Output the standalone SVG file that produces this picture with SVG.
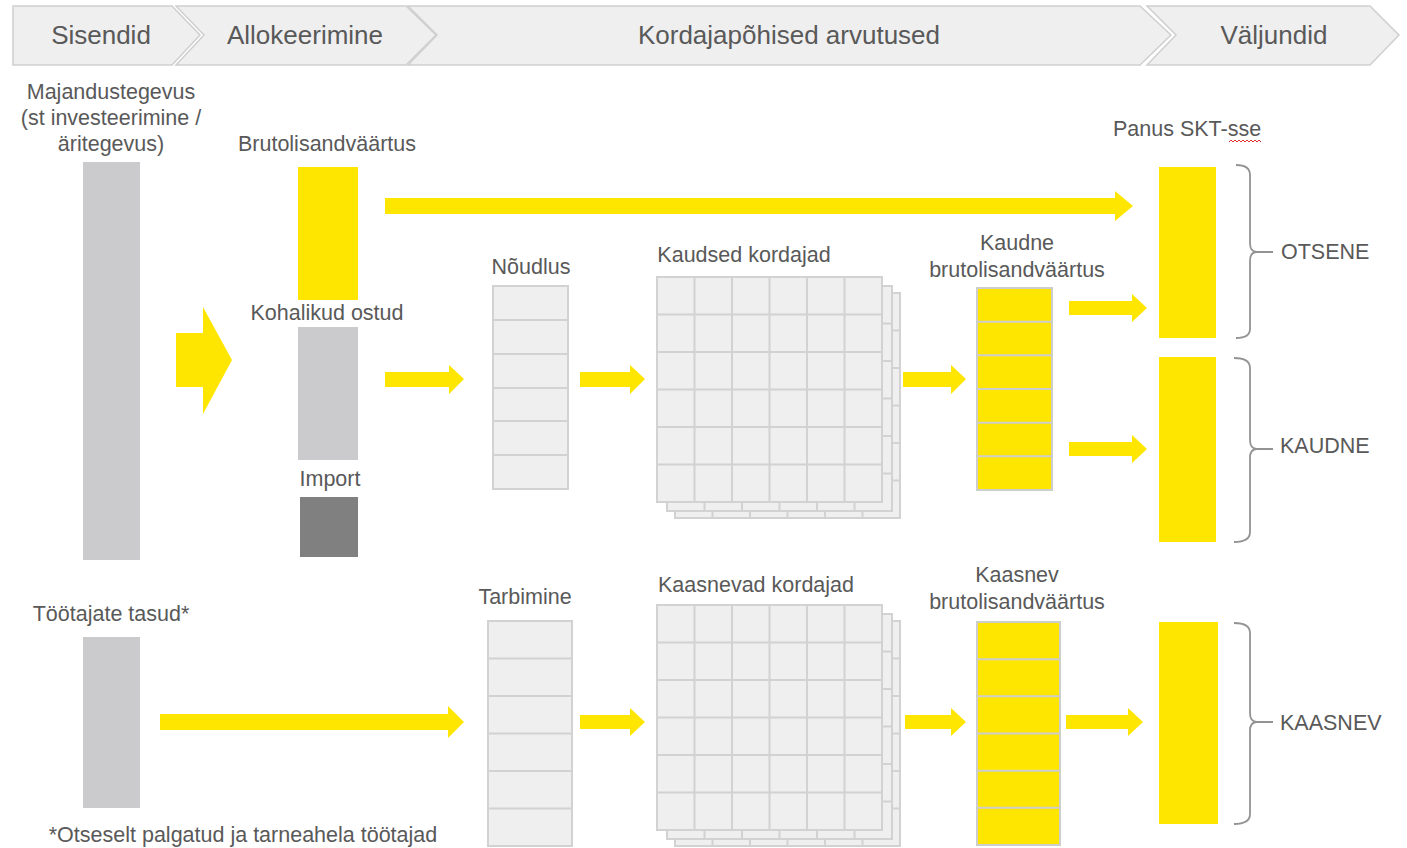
<svg xmlns="http://www.w3.org/2000/svg" xmlns:xlink="http://www.w3.org/1999/xlink" width="1407" height="848" viewBox="0 0 1407 848">
<style>
.chev{fill:#efefef;stroke:#cfcfcf;stroke-width:1.5}
.ht{font-family:"Liberation Sans",Arial,sans-serif;font-size:26px;fill:#595959;text-anchor:middle}
.lb{font-family:"Liberation Sans",Arial,sans-serif;font-size:21.5px;fill:#595959;text-anchor:middle}
.ls{font-family:"Liberation Sans",Arial,sans-serif;font-size:21.5px;fill:#595959}
.arrow{fill:#ffe600}
.y{fill:#ffe600}
.g{fill:#cbcbcd}
.dg{fill:#808080}
.cell{fill:#efefef;stroke:#d2d2d2;stroke-width:2}
.ycell{fill:#ffe600;stroke:#cdcdcd;stroke-width:2}
.gl{stroke:#d2d2d2;stroke-width:2}
.br{fill:none;stroke:#939393;stroke-width:1.8}
</style>
<defs>
<g id="grid">
<rect x="0" y="0" width="225" height="225" class="cell"/>
<path class="gl" d="M37.5,0V225M75,0V225M112.5,0V225M150,0V225M187.5,0V225M0,37.5H225M0,75H225M0,112.5H225M0,150H225M0,187.5H225"/>
</g>
</defs>
<rect width="1407" height="848" fill="#ffffff"/>

<g id="header">
<path class="chev" d="M13,6 H172 L200,35 L172,65 H13 Z"/>
<path class="chev" d="M176,6 H406 L436,35 L406,65 H176 L204,35 Z"/>
<path class="chev" d="M408,6 H1140 L1171,35 L1140,65 H408 L437,35 Z"/>
<path class="chev" d="M1147,6 H1370 L1399,35 L1370,65 H1147 L1176,35 Z"/>
<text class="ht" x="101" y="44">Sisendid</text>
<text class="ht" x="305" y="44">Allokeerimine</text>
<text class="ht" x="789" y="44">Kordajapõhised arvutused</text>
<text class="ht" x="1274" y="44">Väljundid</text>
</g>

<g id="connectors">
<path class="arrow" d="M176,333 H203 V307 L232,360 L203,414 V387 H176 Z"/>
<path class="arrow" d="M385,198 H1115 V191 L1133,206 L1115,221 V214 H385 Z"/>
<path class="arrow" d="M385,372 H449 V365 L464,379 L449,394 V387 H385 Z"/>
<path class="arrow" d="M580,372 H630 V365 L645,379 L630,394 V387 H580 Z"/>
<path class="arrow" d="M903,372 H951 V365 L966,379 L951,394 V387 H903 Z"/>
<path class="arrow" d="M1069,301 H1132 V294 L1147,308 L1132,322 V315 H1069 Z"/>
<path class="arrow" d="M1069,442 H1132 V435 L1147,449 L1132,463 V456 H1069 Z"/>
<path class="arrow" d="M160,714 H448 V706 L464,722 L448,738 V730 H160 Z"/>
<path class="arrow" d="M580,715 H630 V708 L645,722 L630,736 V729 H580 Z"/>
<path class="arrow" d="M905,715 H951 V708 L966,722 L951,736 V729 H905 Z"/>
<path class="arrow" d="M1066,715 H1128 V708 L1143,722 L1128,736 V729 H1066 Z"/>
</g>

<g id="majandustegevus">
<text class="lb" x="111" y="99">Majandustegevus</text>
<text class="lb" x="111" y="125">(st investeerimine /</text>
<text class="lb" x="111" y="151">äritegevus)</text>
<rect class="g" x="83" y="162" width="57" height="398"/>
</g>

<g id="brutolisandvaartus">
<text class="lb" x="327" y="151">Brutolisandväärtus</text>
<rect class="y" x="298" y="167" width="60" height="133"/>
</g>

<g id="kohalikud-ostud">
<text class="lb" x="327" y="320">Kohalikud ostud</text>
<rect class="g" x="298" y="327" width="60" height="133"/>
</g>

<g id="import">
<text class="lb" x="330" y="486">Import</text>
<rect class="dg" x="300" y="497" width="58" height="60"/>
</g>

<g id="noudlus">
<text class="lb" x="531" y="274">Nõudlus</text>
<rect class="cell" x="493" y="286" width="75" height="203"/>
<path class="gl" d="M493,320H568M493,354H568M493,388H568M493,421H568M493,455H568"/>
</g>

<g id="kaudsed-kordajad">
<text class="lb" x="744" y="262">Kaudsed kordajad</text>
<use xlink:href="#grid" x="675" y="293"/>
<use xlink:href="#grid" x="667" y="286"/>
<use xlink:href="#grid" x="657" y="277"/>
</g>

<g id="kaudne-bva">
<text class="lb" x="1017" y="250">Kaudne</text>
<text class="lb" x="1017" y="277">brutolisandväärtus</text>
<rect class="ycell" x="977" y="288" width="75" height="202"/>
<path class="gl" d="M977,321.7H1052M977,355.3H1052M977,389H1052M977,422.7H1052M977,456.3H1052" style="stroke:#cdcdcd"/>
</g>

<g id="panus">
<text class="ls" x="1113" y="136">Panus SKT-sse</text>
<path d="M1229,142 l2,-2 l2,2 l2,-2 l2,2 l2,-2 l2,2 l2,-2 l2,2 l2,-2 l2,2 l2,-2 l2,2 l2,-2 l2,2 l2,-2 l2,2" fill="none" stroke="#e03030" stroke-width="1"/>
</g>

<g id="otsene">
<rect class="y" x="1159" y="167" width="57" height="171"/>
<path class="br" d="M1236,165 Q1250,165 1250,175 V243 Q1250,252 1257,252 Q1250,252 1250,261 V329 Q1250,338 1236,338 M1257,252 H1273"/>
<text class="ls" x="1281" y="259">OTSENE</text>
</g>

<g id="kaudne">
<rect class="y" x="1159" y="357" width="57" height="185"/>
<path class="br" d="M1234,358 Q1250,358 1250,368 V440 Q1250,449 1257,449 Q1250,449 1250,458 V532 Q1250,542 1234,542 M1257,449 H1273"/>
<text class="ls" x="1280" y="453">KAUDNE</text>
</g>

<g id="tootajate-tasud">
<text class="lb" x="111" y="621">Töötajate tasud*</text>
<rect class="g" x="83" y="637" width="57" height="171"/>
</g>

<g id="tarbimine">
<text class="lb" x="525" y="604">Tarbimine</text>
<rect class="cell" x="488" y="621" width="84" height="225"/>
<path class="gl" d="M488,658.5H572M488,696H572M488,733.5H572M488,771H572M488,808.5H572"/>
</g>

<g id="kaasnevad-kordajad">
<text class="lb" x="756" y="592">Kaasnevad kordajad</text>
<use xlink:href="#grid" x="675" y="621"/>
<use xlink:href="#grid" x="667" y="614"/>
<use xlink:href="#grid" x="657" y="605"/>
</g>

<g id="kaasnev-bva">
<text class="lb" x="1017" y="582">Kaasnev</text>
<text class="lb" x="1017" y="609">brutolisandväärtus</text>
<rect class="ycell" x="977" y="622" width="83" height="223"/>
<path class="gl" d="M977,659.2H1060M977,696.3H1060M977,733.5H1060M977,770.7H1060M977,807.8H1060" style="stroke:#cdcdcd"/>
</g>

<g id="kaasnev">
<rect class="y" x="1159" y="622" width="59" height="202"/>
<path class="br" d="M1234,623 Q1250,623 1250,633 V713 Q1250,722 1257,722 Q1250,722 1250,731 V814 Q1250,824 1234,824 M1257,722 H1273"/>
<text class="ls" x="1280" y="730">KAASNEV</text>
</g>

<g id="footnote">
<text class="lb" x="243" y="842">*Otseselt palgatud ja tarneahela töötajad</text>
</g>
</svg>
